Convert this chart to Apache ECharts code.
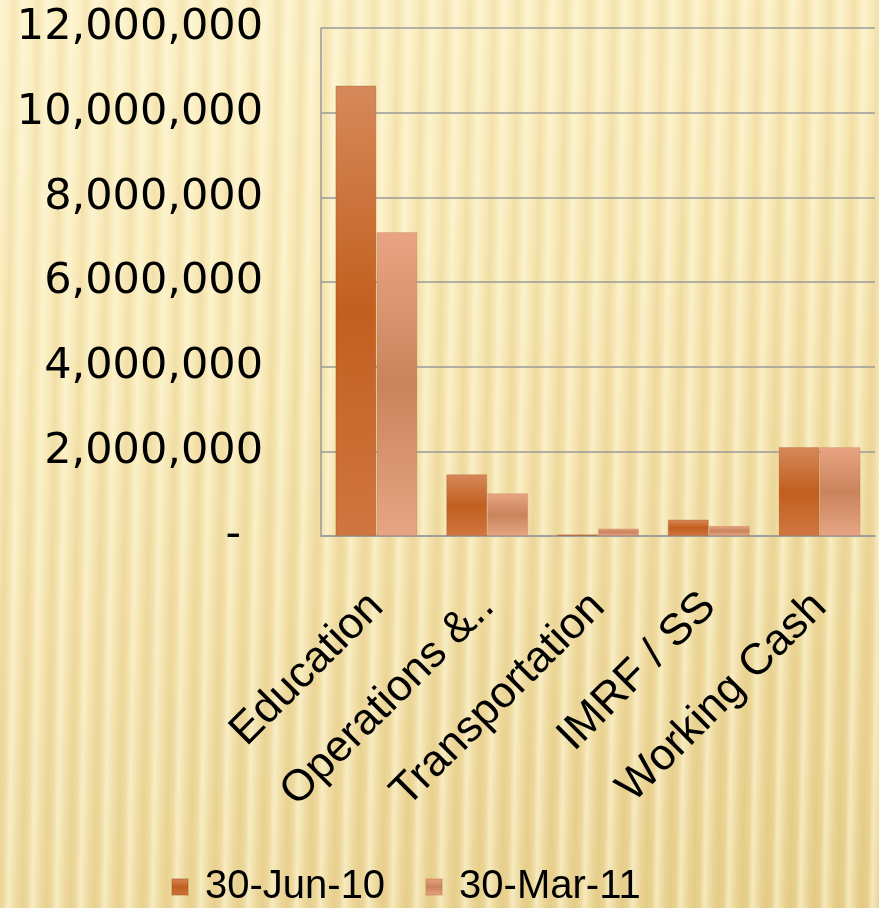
<!DOCTYPE html>
<html>
<head>
<meta charset="utf-8">
<script src="https://cdn.jsdelivr.net/npm/echarts@6/dist/echarts.min.js"></script>
<style>
html,body{margin:0;padding:0;width:879px;height:908px;overflow:hidden;}
body{
  background:
    repeating-linear-gradient(91deg, rgba(255,252,225,0.55) 0px, rgba(255,252,225,0.0) 9px, rgba(190,150,60,0.10) 14px, rgba(255,252,225,0.0) 19px, rgba(255,252,225,0.55) 24px),
    linear-gradient(160deg, #fbefc4 0%, #f7e7b3 35%, #f0dca2 65%, #e7cf8c 100%);
}
#chart{width:879px;height:908px;}
</style>
</head>
<body>
<div id="chart"></div>
<script>
const categories = ['Education', 'Operations &..', 'Transportation', 'IMRF / SS', 'Working Cash'];
const seriesNames = ['30-Jun-10', '30-Mar-11'];
const jun10 = [10640000, 1460000, 40000, 390000, 2100000];
const mar11 = [7180000, 1010000, 180000, 240000, 2100000];
const yTicks = [0, 2000000, 4000000, 6000000, 8000000, 10000000, 12000000];

const chart = echarts.init(document.getElementById('chart'), null, {renderer: 'canvas'});

function grad(c1, c2, c3) {
  return new echarts.graphic.LinearGradient(0, 0, 0, 1, [
    {offset: 0, color: c1}, {offset: 0.5, color: c2}, {offset: 1, color: c3}
  ]);
}

const option = {
  backgroundColor: 'transparent',
  animation: false,
  grid: {left: 321, right: 4, top: 28, bottom: 372, containLabel: false},
  legend: {
    top: 862,
    left: 166,
    itemWidth: 16, itemHeight: 16, itemGap: 40,
    icon: 'rect',
    textStyle: {fontFamily: 'Liberation Sans', fontSize: 40, color: '#000', padding: [0, 0, 0, 12]},
    data: seriesNames
  },
  xAxis: {
    type: 'category',
    data: categories,
    axisLine: {lineStyle: {color: '#9a9a9a', width: 1.5}},
    axisTick: {show: false},
    axisLabel: {
      rotate: 45, interval: 0, margin: 64,
      fontFamily: 'Liberation Sans', fontSize: 44, color: '#000'
    }
  },
  yAxis: {
    type: 'value',
    min: 0, max: 12000000, interval: 2000000,
    axisLine: {show: true, lineStyle: {color: '#9a9a9a', width: 1.5}},
    axisTick: {show: false},
    splitLine: {lineStyle: {color: '#9a9a9a', width: 1.5}},
    axisLabel: {
      margin: 58,
      fontFamily: 'DejaVu Sans', fontSize: 43, color: '#000',
      formatter: function (v) {
        if (v === 0) return '{z|-}';
        return v.toLocaleString('en-US');
      },
      rich: {z: {fontFamily: 'DejaVu Sans', fontSize: 43, color: '#000', padding: [0, 22, 0, 0]}}
    }
  },
  series: [
    {
      name: seriesNames[0], type: 'bar', data: jun10,
      barGap: '0%', barCategoryGap: '26%',
      itemStyle: {color: grad('#d6895a', '#c25f1f', '#d07640'), borderColor: 'rgba(150,70,20,0.25)', borderWidth: 1}
    },
    {
      name: seriesNames[1], type: 'bar', data: mar11,
      itemStyle: {color: grad('#e9a583', '#c9845c', '#e7a584'), borderColor: 'rgba(170,90,50,0.2)', borderWidth: 1}
    }
  ]
};
chart.setOption(option);
</script>
</body>
</html>
